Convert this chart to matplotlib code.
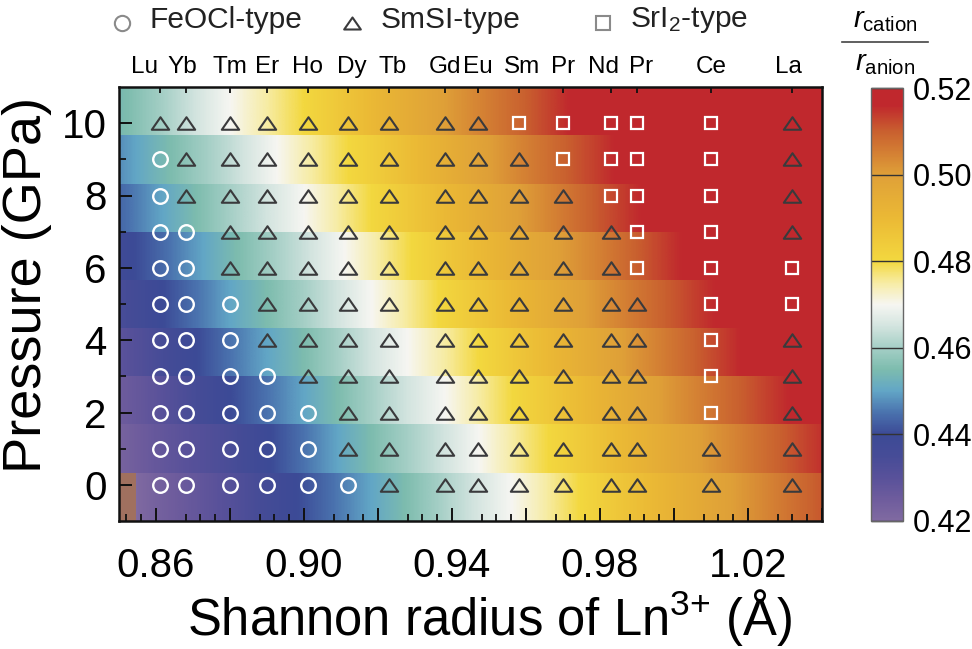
import numpy as np
import matplotlib
matplotlib.use("Agg")
import matplotlib.pyplot as plt
from matplotlib.colors import LinearSegmentedColormap, Normalize
from matplotlib.lines import Line2D
from matplotlib.path import Path

plt.rcParams['font.family'] = ['Liberation Sans', 'DejaVu Sans']
plt.rcParams['mathtext.fontset'] = 'custom'
plt.rcParams['mathtext.rm'] = 'Liberation Sans'
plt.rcParams['mathtext.it'] = 'Liberation Sans:italic'
plt.rcParams['mathtext.default'] = 'regular'

elements = ['Lu', 'Yb', 'Tm', 'Er', 'Ho', 'Dy', 'Tb', 'Gd', 'Eu', 'Sm', 'Pr', 'Nd', 'Pr', 'Ce', 'La']
radii = [0.861, 0.868, 0.880, 0.890, 0.901, 0.912, 0.923, 0.938, 0.947, 0.958, 0.970, 0.983, 0.990, 1.010, 1.032]
label_radii = [0.857, 0.867, 0.880, 0.890, 0.901, 0.913, 0.924, 0.938, 0.947, 0.959, 0.970, 0.981, 0.991, 1.010, 1.031]
pressures = [10, 9, 8, 7, 6, 5, 4, 3, 2, 1, 0]
# one letter per element: C FeOCl, T SmSI, S SrI2
phases = ['TTTTTTTTTSSSSST',
          'CTTTTTTTTTSSSST',
          'CTTTTTTTTTTSSST',
          'CCTTTTTTTTTTSST',
          'CCTTTTTTTTTTSSS',
          'CCCTTTTTTTTTTSS',
          'CCCTTTTTTTTTTST',
          'CCCCTTTTTTTTTST',
          'CCCCCTTTTTTTTST',
          'CCCCCTTTTTTTTTT',
          'CCCCCCTTTTTTTTT']

band_edges = [-1, 0.33, 1.67, 3, 4.33, 5.67, 7, 8.33, 9.67, 11]
grid_radii = [0.84, 0.86, 0.88, 0.90, 0.92, 0.94, 0.96, 0.98, 1.00, 1.02, 1.04, 1.06]
ratio = [
    [.412, .423, .431, .441, .451, .462, .472, .483, .493, .502, .511, .520],
    [.418, .427, .434, .445, .456, .466, .477, .487, .497, .506, .515, .524],
    [.421, .429, .440, .450, .461, .471, .482, .492, .502, .511, .520, .530],
    [.424, .434, .445, .455, .466, .476, .487, .497, .507, .517, .526, .535],
    [.429, .439, .450, .460, .471, .482, .492, .502, .511, .520, .530, .540],
    [.433, .443, .454, .464, .475, .486, .496, .505, .515, .524, .534, .544],
    [.438, .449, .460, .470, .481, .491, .501, .511, .520, .530, .540, .550],
    [.442, .453, .463, .474, .484, .495, .505, .514, .524, .534, .544, .554],
    [.449, .459, .470, .480, .491, .501, .510, .520, .530, .540, .550, .560],
]

cstops = [(0.42, '#806aa1'), (0.425, '#6e5c9d'), (0.43, '#58519a'), (0.435, '#464c97'), (0.44, '#3c4a96'),
          (0.445, '#4a72ae'), (0.45, '#62a6c6'), (0.455, '#7dbcae'), (0.46, '#a5cfc6'),
          (0.465, '#d3e4df'), (0.47, '#f6f6f2'), (0.475, '#f7eca4'), (0.48, '#f3d83f'),
          (0.49, '#ebb935'), (0.50, '#dfa038'), (0.51, '#c9602f'), (0.516, '#c0282d'),
          (0.52, '#c0282d')]
vmin, vmax = 0.42, 0.52
cmap = LinearSegmentedColormap.from_list(
    'r', [((v - vmin) / (vmax - vmin), c) for v, c in cstops], N=512)
cmap.set_under('#a0705f')
cmap.set_over('#c0282d')
norm = Normalize(vmin, vmax)

W, H = 972, 649
fig = plt.figure(figsize=(W / 100, H / 100), dpi=100)
def box(l, t, r, b):
    return [l / W, 1 - b / H, (r - l) / W, (b - t) / H]
ax = fig.add_axes(box(119, 87, 822, 521))

dx = grid_radii[1] - grid_radii[0]
for i, row in enumerate(ratio):
    im = ax.imshow(np.array([row, row]), cmap=cmap, norm=norm, aspect='auto', origin='lower',
                   interpolation='bilinear', interpolation_stage='data',
                   extent=[grid_radii[0] - dx / 2, grid_radii[-1] + dx / 2, band_edges[i], band_edges[i + 1]])

flat_tri = Path([(-1, -0.72), (1, -0.72), (0, 0.72), (-1, -0.72)], closed=True)
styles = {'C': dict(marker='o', ms=10.5, mec='white', mew=1.7),
          'T': dict(marker=flat_tri, ms=12.5, mec='#3a3a3c', mew=1.5),
          'S': dict(marker='s', ms=9, mec='white', mew=1.6)}
for p, row in zip(pressures, phases):
    for r, ph in zip(radii, row):
        ax.plot([r], [p], ls='none', mfc='none', **styles[ph])

ax.set_xlim(0.85, 1.04)
ax.set_ylim(-1, 11)
ax.set_xticks([0.86, 0.88, 0.90, 0.92, 0.94, 0.96, 0.98, 1.00, 1.02, 1.04])
ax.set_xticklabels(['0.86', '', '0.90', '', '0.94', '', '0.98', '', '1.02', ''])
ax.set_xticks([0.852 + 0.004 * i for i in range(47) if (i + 2) % 5 != 0], minor=True)
ax.set_yticks([0, 2, 4, 6, 8, 10])
ax.set_yticks([1, 3, 5, 7, 9], minor=True)
ax.tick_params(axis='both', which='major', direction='in', length=9.5, width=1.4, color='#111111')
ax.tick_params(axis='both', which='minor', direction='in', length=5, width=1.3, color='#111111')
ax.tick_params(axis='x', labelsize=29, pad=19)
ax.tick_params(axis='y', labelsize=29, pad=9)
for s in ax.spines.values():
    s.set_linewidth(1.8)
    s.set_color('#111111')
ax.set_xlabel('Shannon radius of Ln$^{3{+}}$ (Å)', fontsize=36.5)
ax.xaxis.set_label_coords((490 - 119) / 703, -(617 - 521) / 434, transform=ax.transAxes)
ax.xaxis.get_label().set_va('center')
ax.set_ylabel('Pressure (GPa)', fontsize=39)
ax.yaxis.set_label_coords((27 - 119) / 703, (521 - 285) / 434, transform=ax.transAxes)
ax.yaxis.get_label().set_va('center')

top = ax.secondary_xaxis('top')
top.set_xticks(radii)
top.set_xticklabels([''] * len(radii))
top.tick_params(direction='in', length=4.5, width=1.3, color='#111111')
top.spines['top'].set_visible(False)
for name, lr in zip(elements, label_radii):
    ax.text(lr, 1 + (87 - 67) / 434, name, fontsize=17.5, ha='center', va='center',
            transform=ax.get_xaxis_transform(), clip_on=False)

cax = fig.add_axes(box(871, 88, 903, 521))
cb = fig.colorbar(plt.cm.ScalarMappable(norm=norm, cmap=cmap), cax=cax)
cb.set_ticks([0.42, 0.44, 0.46, 0.48, 0.50, 0.52])
cb.set_ticklabels(['0.42', '0.44', '0.46', '0.48', '0.50', '0.52'])
cb.ax.tick_params(direction='in', length=23, width=1, color='#333333', labelsize=22, pad=7)
cb.outline.set_edgecolor('#666666')
cb.outline.set_linewidth(1)

def fx(px): return px / W
def fy(py): return 1 - py / H
fig.text(fx(885), fy(20), r'$\mathit{r}_{cation}$', fontsize=21, ha='center', va='center')
fig.add_artist(Line2D([fx(842), fx(928)], [fy(42), fy(42)], color='#444444', lw=1.2))
fig.text(fx(885), fy(63), r'$\mathit{r}_{anion}$', fontsize=21, ha='center', va='center')

legend_items = [(122, 'o', '#8a8a8a', 11, 'FeOCl-type', 150),
                (352, flat_tri, '#3a3a3c', 12, 'SmSI-type', 381),
                (603, 's', '#8a8a8a', 9.5, 'SrI$_2$-type', 630)]
for xm, mk, col, size, lab, xt in legend_items:
    fig.add_artist(Line2D([fx(xm)], [fy(23)], marker=mk, ms=size, mfc='none', mec=col, mew=1.5, ls='none'))
    fig.text(fx(xt), fy(20), lab, fontsize=21.5, ha='left', va='center', color='#222222')

fig.savefig('out.png', dpi=100)
